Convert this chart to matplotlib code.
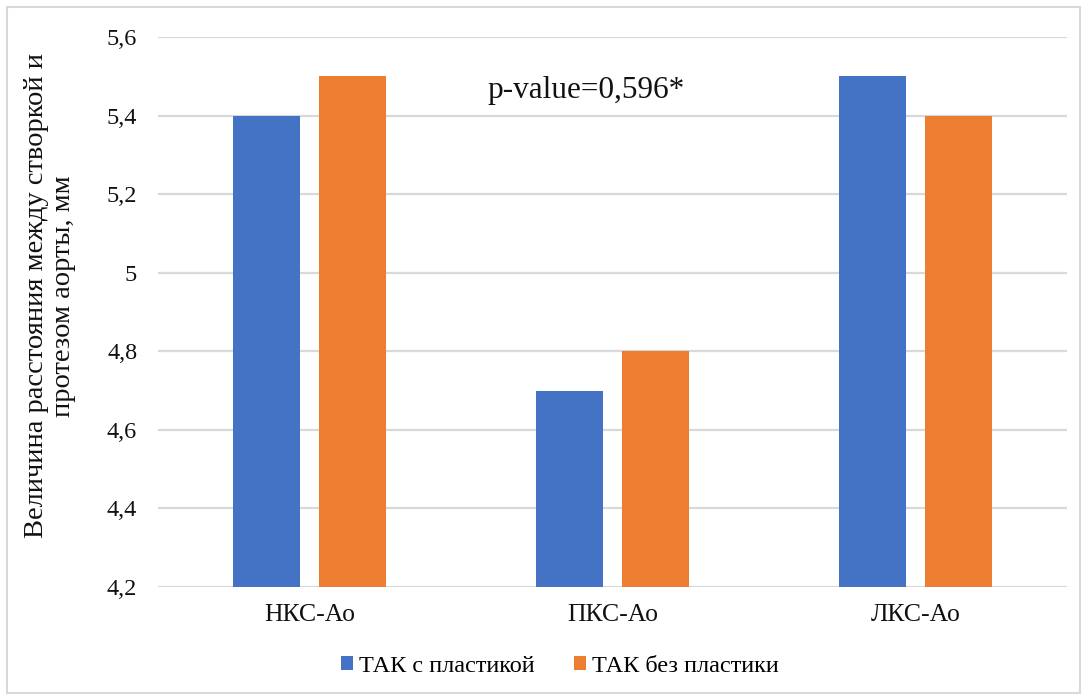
import matplotlib
matplotlib.use("Agg")
import matplotlib.pyplot as plt
from matplotlib.patches import Rectangle, Patch
import numpy as np

categories = ["НКС-Ао", "ПКС-Ао", "ЛКС-Ао"]
series_names = ["ТАК с пластикой", "ТАК без пластики"]
with_plasty = [5.4, 4.7, 5.5]
without_plasty = [5.5, 4.8, 5.4]
y_ticks = [4.2, 4.4, 4.6, 4.8, 5.0, 5.2, 5.4, 5.6]
y_tick_labels = ["4,2", "4,4", "4,6", "4,8", "5", "5,2", "5,4", "5,6"]
ylabel = "Величина расстояния между створкой и\nпротезом аорты, мм"
annotation = "p-value=0,596*"

colors = ["#4472C4", "#ED7D31"]
serif = ["Liberation Serif", "DejaVu Serif"]
plt.rcParams["font.family"] = serif

fig = plt.figure(figsize=(10.87, 7.0), dpi=100)
ax = fig.add_axes([158 / 1087, 113 / 700, 909 / 1087, 550 / 700])

x = np.arange(len(categories))
width = 0.224
offset = 0.142
ax.bar(x - offset, with_plasty, width, color=colors[0], label=series_names[0], zorder=3)
ax.bar(x + offset, without_plasty, width, color=colors[1], label=series_names[1], zorder=3)

ax.set_xlim(-0.5, 2.5)
ax.set_ylim(4.2, 5.6)
ax.set_yticks(y_ticks)
ax.set_yticklabels(y_tick_labels)
ax.set_xticks(x)
ax.set_xticklabels(categories)
ax.tick_params(axis="both", length=0, colors="#111111")
ax.tick_params(axis="y", pad=15, labelsize=17.5)
ax.tick_params(axis="x", pad=12, labelsize=18.5)
ax.grid(axis="y", color="#D9D9D9", linewidth=1.6, zorder=0)
for s in ax.spines.values():
    s.set_visible(False)

ax.text(0.912, 5.465, annotation, ha="center", va="center", fontsize=22.5, color="#111111")

fig.text(50 / 1087, 1 - 296 / 700, ylabel, rotation=90, ha="center", va="center",
         multialignment="center", fontsize=20.5, color="#111111", linespacing=1.12)

handles = [Patch(facecolor=c, label=n) for c, n in zip(colors, series_names)]
fig.legend(handles=handles, loc="center", bbox_to_anchor=(560 / 1087, 1 - 666 / 700),
           ncol=2, frameon=False, fontsize=17.5, handlelength=0.5, handleheight=0.5,
           handletextpad=0.25, columnspacing=1.6)

fig.patches.append(Rectangle((7 / 1087, 7 / 700), 1073 / 1087, 686 / 700,
                             transform=fig.transFigure, fill=False,
                             edgecolor="#D9D9D9", linewidth=1.5))

fig.savefig("out.png", dpi=100, facecolor="white")
